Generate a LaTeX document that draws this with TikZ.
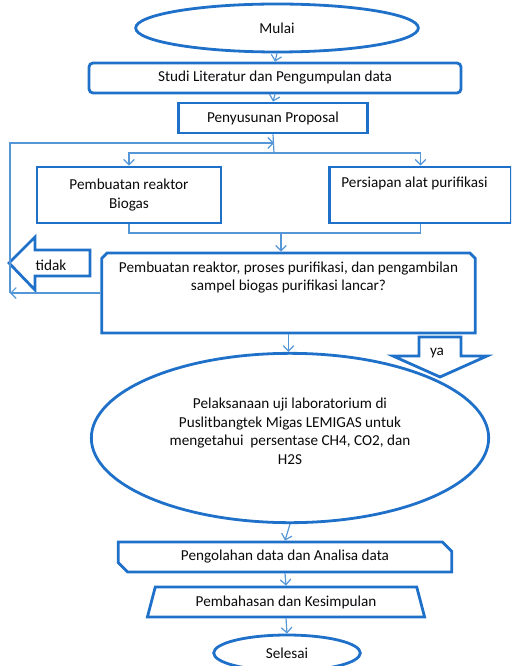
\documentclass[tikz,border=0pt]{standalone}
\usepackage{fontspec}
\setmainfont{Carlito}
\usepackage{tikz}
\usetikzlibrary{shapes.geometric,shapes.misc,arrows.meta}
\definecolor{biru}{RGB}{30,112,200}
\definecolor{garis}{RGB}{85,150,215}
\definecolor{tinta}{RGB}{10,10,10}
\tikzset{
  kotak/.style={draw=biru,line width=2.1pt,fill=white,text=tinta,align=center,inner sep=2pt},
  oval/.style={kotak,ellipse},
  cekbox/.style={kotak,chamfered rectangle,chamfered rectangle corners={north west,north east},
    chamfered rectangle xsep=9pt,chamfered rectangle ysep=10pt},
  olahbox/.style={kotak,chamfered rectangle,chamfered rectangle corners={north east,south west},
    chamfered rectangle xsep=3.5pt,chamfered rectangle ysep=3.5pt},
  miring/.style={kotak,trapezium,trapezium stretches=true,trapezium left angle=73,trapezium right angle=73},
  hubung/.style={draw=garis,line width=0.9pt,-{Straight Barb[length=4pt,width=8pt]}},
  garisan/.style={draw=garis,line width=0.9pt},
  panah/.style={draw=biru,line width=2.1pt,fill=white,line join=miter},
}
\begin{document}
\begin{tikzpicture}[x=0.75pt,y=-0.75pt,font=\fontsize{11.4}{13.8}\selectfont]
\useasboundingbox (0,0) rectangle (511,666);
\clip (0,0) rectangle (511,666);
\node[oval,minimum width=212pt,minimum height=36pt] (mulai) at (277,28) {Mulai};
\node[kotak,rounded corners=3pt,minimum width=279pt,minimum height=22.5pt] (studi) at (275,78) {Studi Literatur dan Pengumpulan data};
\node[kotak,minimum width=141.75pt,minimum height=22.5pt] (proposal) at (273,118) {Penyusunan Proposal};
\node[kotak,minimum width=138pt,minimum height=42pt] (reaktor) at (129,195) {Pembuatan reaktor\\Biogas};
\node[kotak,minimum width=136pt,minimum height=42pt,label={[text=tinta,below=5pt,xshift=-4.5pt]north:Persiapan alat purifikasi}] (alat) at (420.5,195) {};
\node[cekbox,minimum width=280pt,minimum height=60pt,label={[text=tinta,align=center,below=4pt]north:Pembuatan reaktor, proses purifikasi, dan pengambilan\\sampel biogas purifikasi lancar?}] (cek) at (288.5,293) {};
\node[oval,minimum width=298pt,minimum height=127pt] (uji) at (290,438) {Pelaksanaan uji laboratorium di\\Puslitbangtek Migas LEMIGAS untuk\\mengetahui\ \ persentase CH4, CO2, dan\\H2S\\[-3.5pt]};
\node[olahbox,minimum width=250pt,minimum height=22.5pt] (olah) at (285,557) {Pengolahan data dan Analisa data};
\node[miring,minimum width=208pt,minimum height=22.5pt] (bahas) at (286,602) {Pembahasan dan Kesimpulan};
\node[oval,minimum width=110pt,minimum height=27pt] (selesai) at (287,653) {Selesai};
% block arrows
\draw[panah] (90,250) -- (35,250) -- (35,237) -- (9,263) -- (35,290) -- (35,276) -- (90,276) -- cycle;
\node[text=tinta] (tidak) at (51,265) {tidak};
\draw[panah] (419,337) -- (419,356) -- (393,356) -- (440,377) -- (487,356) -- (461,356) -- (461,337) -- cycle;
\node[text=tinta] (ya) at (437,353) {ya};
% connectors
\coordinate (cabang) at (274,153);
\coordinate (gabung) at (281,233);
\coordinate (kiri) at (10,293);
\coordinate (atas) at (274,143);
\draw[hubung] (mulai.south) -- (studi.north);
\draw[hubung] (studi.south) -- (proposal.north);
\draw[garisan] (proposal.south) -- (cabang);
\draw[hubung] (cabang) -| (reaktor.north);
\draw[hubung] (cabang) -| (alat.north);
\draw[garisan] (reaktor.south) |- (gabung) -| (alat.south);
\draw[hubung] (gabung) -- (gabung |- cek.north);
\draw[hubung] (cek.west) -- (kiri);
\draw[hubung] (kiri) |- (atas);
\draw[hubung] (cek.south) -- (cek.south |- uji.north);
\draw[hubung] (uji.south) -- (olah.north);
\draw[hubung] (olah.south) -- (bahas.north);
\draw[hubung] (bahas.south) -- (selesai.north);
\end{tikzpicture}
\end{document}
